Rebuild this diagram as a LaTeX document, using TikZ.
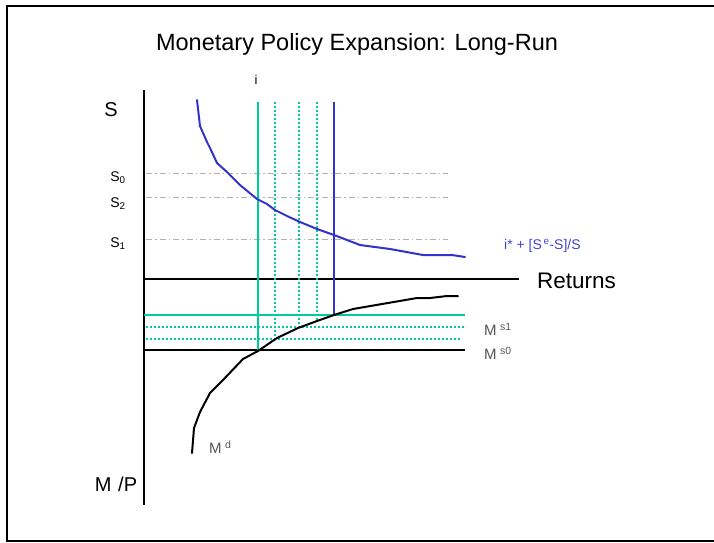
\documentclass[tikz,border=0pt]{standalone}
\usepackage{fontspec}
\setmainfont{Liberation Sans}
\definecolor{mgreen}{HTML}{00CC99}
\definecolor{mblue}{HTML}{3333CC}
\definecolor{lblue}{HTML}{4444CC}
\definecolor{mgray}{HTML}{555555}
\begin{document}
\begin{tikzpicture}[x=1pt,y=-1pt,
  axis/.style={line width=2pt,black},
  gline/.style={line width=2pt,mgreen},
  gdot/.style={line width=1.6pt,mgreen,dash pattern=on 2pt off 2pt},
  bline/.style={line width=2pt,mblue},
  guide/.style={line width=0.8pt,gray!60,dash pattern=on 6pt off 3pt on 1.5pt off 3pt},
  curve/.style={line width=2pt,line join=round,line cap=round},
  lab/.style={inner sep=0pt,font=\fontsize{14}{16}\selectfont},
  mlab/.style={inner sep=0pt,text=mgray,font=\fontsize{15}{17}\selectfont}]
\useasboundingbox (0,0) rectangle (714,542);
\draw[line width=2pt] (714,6) -- (7,6) -- (7,541) -- (714,541);
% title
\node[inner sep=0pt,font=\fontsize{23.5}{28}\selectfont] (title) at (357,44) {Monetary Policy Expansion: Long-Run};
% axes
\coordinate (top) at (144,90);
\coordinate (bot) at (144,505);
\coordinate (rl) at (144,279);
\coordinate (rr) at (519,279);
\draw[axis] (top) -- (bot);
\draw[axis] (rl) -- (rr);
\node[inner sep=0pt,font=\fontsize{20}{24}\selectfont] (S) at (111,110) {S};
\node[inner sep=0pt,font=\fontsize{20}{24}\selectfont] (MP) at (116,484) {M\,\,/P};
\node[inner sep=0pt,anchor=west,font=\fontsize{22.5}{26}\selectfont] (ret) at (537,281) {Returns};
% guide lines
\coordinate (g0l) at (146,173); \coordinate (g0r) at (448,173);
\coordinate (g2l) at (146,197); \coordinate (g2r) at (448,197);
\coordinate (g1l) at (146,239); \coordinate (g1r) at (448,239);
\draw[guide] (g0l) -- (g0r);
\draw[guide] (g2l) -- (g2r);
\draw[guide] (g1l) -- (g1r);
\node[lab] (S0) at (118,178) {S\textsubscript{0}};
\node[lab] (S2) at (118,204) {S\textsubscript{2}};
\node[lab] (S1) at (118,244) {S\textsubscript{1}};
% money supply lines
\coordinate (ms0l) at (144,350); \coordinate (ms0r) at (465,350);
\coordinate (ms1l) at (144,315); \coordinate (ms1r) at (465,315);
\coordinate (d1l) at (146,327); \coordinate (d1r) at (466,327);
\coordinate (d2l) at (146,339); \coordinate (d2r) at (460,339);
\draw[gdot] (d1l) -- (d1r);
\draw[gdot] (d2l) -- (d2r);
\draw[axis] (ms0l) -- (ms0r);
\draw[gline] (ms1l) -- (ms1r);
% verticals
\coordinate (v0t) at (258,102); \coordinate (v0b) at (258,351);
\coordinate (v1t) at (275,102); \coordinate (v1b) at (275,339);
\coordinate (v2t) at (299,102); \coordinate (v2b) at (299,327);
\coordinate (v3t) at (317,102); \coordinate (v3b) at (317,321);
\coordinate (v4t) at (334,102); \coordinate (v4b) at (334,315);
\draw[gline] (v0t) -- (v0b);
\draw[gdot] (v1t) -- (v1b);
\draw[gdot] (v2t) -- (v2b);
\draw[gdot] (v3t) -- (v3b);
\draw[bline] (v4t) -- (v4b);
\node[inner sep=0pt,font=\fontsize{13}{15}\selectfont] (ilab) at (256,80) {i};
% returns curve
\draw[curve,mblue] (197,100) -- (200,126) -- (207,142) -- (211,150) -- (217,163) -- (227,172) -- (240,185) -- (257,199) -- (267,204) -- (275,210) -- (287,216) -- (300,222) -- (317,229) -- (334,235) -- (347,240) -- (360,245) -- (390,249) -- (423,255) -- (452,255) -- (465,257);
\node[inner sep=0pt,anchor=west,text=lblue,font=\fontsize{14}{16}\selectfont] (rlab) at (504,246) {i* + [S\textsuperscript{\,e}-S]/S};
% money demand curve
\draw[curve,black] (192,453) -- (194,428) -- (200,412) -- (210,393) -- (223,380) -- (243,359) -- (258,351) -- (277,338) -- (298,328) -- (317,321) -- (334,315) -- (353,309) -- (417,298) -- (430,298) -- (447,296) -- (458,296);
\node[mlab,anchor=west] (md) at (209,447) {M\textsuperscript{\,\,d}};
\node[mlab,anchor=west] (ms1) at (484,329) {M\textsuperscript{\,\,s1}};
\node[mlab,anchor=west] (ms0) at (484,353) {M\textsuperscript{\,\,s0}};
\end{tikzpicture}
\end{document}
